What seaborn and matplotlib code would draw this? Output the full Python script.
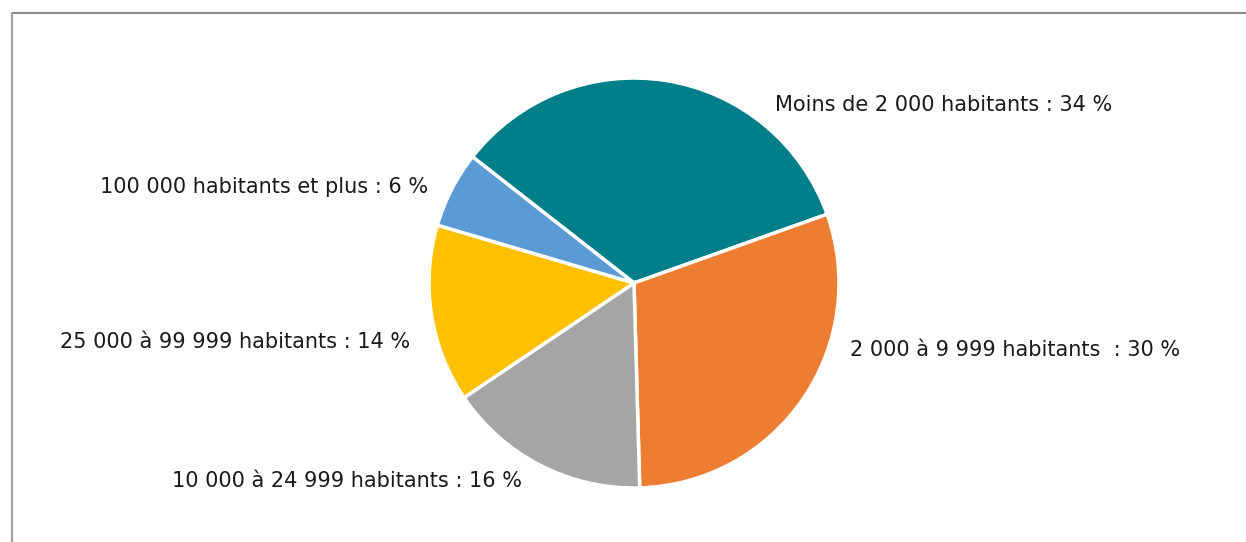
import matplotlib
matplotlib.use("Agg")
import matplotlib.pyplot as plt
from matplotlib.lines import Line2D
import seaborn as sns

# ── Data ───────────────────────────────────────────────────────────────────
categories = [
    "Moins de 2 000 habitants",
    "2 000 à 9 999 habitants ",
    "10 000 à 24 999 habitants",
    "25 000 à 99 999 habitants",
    "100 000 habitants et plus",
]
shares = [34, 30, 16, 14, 6]
colors = ["#007E89", "#ED7D31", "#A5A5A5", "#FFC000", "#5B9BD5"]

# label anchor (pixels from top-left) and alignment, layout only
label_pos = [(775, 105, "left"), (850, 350, "left"), (522, 481, "right"),
             (410, 342, "right"), (428, 187, "right")]

# ── Style ──────────────────────────────────────────────────────────────────
sns.set_theme(style="white")
plt.rcParams["font.family"] = ["DejaVu Sans"]

W, H = 1246, 542
fig = plt.figure(figsize=(W / 100, H / 100), dpi=100)
fig.patch.set_facecolor("white")

cx, cy, r = 634, 283, 206
ax = fig.add_axes([(cx - r) / W, (H - cy - r) / H, 2 * r / W, 2 * r / H])
ax.pie(shares, colors=colors, startangle=142, counterclock=False, radius=1,
       wedgeprops=dict(edgecolor="white", linewidth=2.5))
ax.set_xlim(-1.005, 1.005)
ax.set_ylim(-1.005, 1.005)
ax.set_aspect("equal")
ax.axis("off")

for cat, val, (px, py, ha) in zip(categories, shares, label_pos):
    fig.text(px / W, 1 - py / H, f"{cat} : {val} %", ha=ha, va="center",
             fontsize=15, color="#1a1a1a")

# chart frame (top and left edges visible)
fig.add_artist(Line2D([12 / W, 1], [1 - 13 / H, 1 - 13 / H], color="#8a8a8a", lw=1.5))
fig.add_artist(Line2D([12 / W, 12 / W], [0, 1 - 13 / H], color="#a0a0a0", lw=1.5))

fig.savefig("out.png", dpi=100, facecolor="white")
